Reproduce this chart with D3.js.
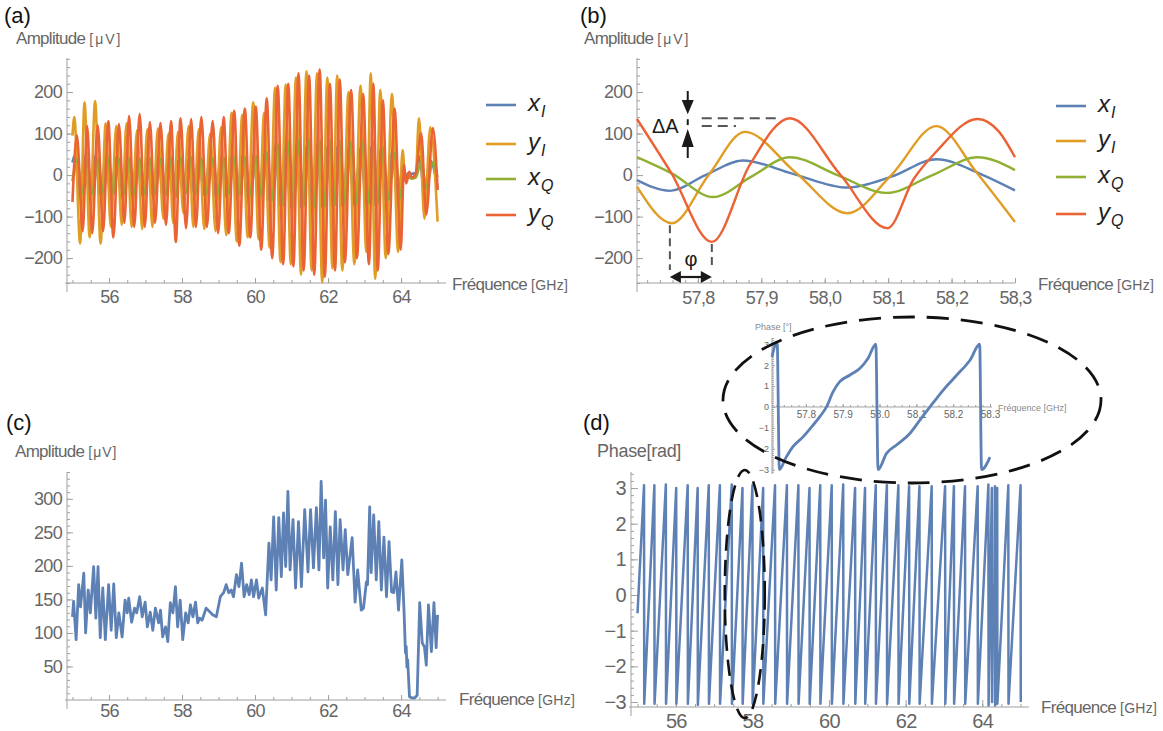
<!DOCTYPE html>
<html><head><meta charset="utf-8">
<script src="https://cdn.jsdelivr.net/npm/d3@7/dist/d3.min.js"></script>
<style>
html,body{margin:0;padding:0;background:#fff;}
svg{display:block;font-family:"Liberation Sans",Arial,Helvetica,sans-serif;}
</style></head>
<body><svg id="fig" width="1163" height="731"></svg>
<script>
// ================= DATA =================
const seriesLabels = [["x","I"],["y","I"],["x","Q"],["y","Q"]];
const seriesColors = ["#5E81B5","#E19C24","#8FB032","#EB6235"];

// ---- panel (a): extrema of the in-phase (I) and quadrature (Q) signals, 55-65 GHz
const aFreqI = [55.00,55.05,55.21,55.33,55.47,55.62,55.77,55.91,56.05,56.20,56.35,56.48,56.62,56.77,56.91,57.05,57.19,57.34,57.49,57.63,57.76,57.89,58.04,58.18,58.31,58.46,58.61,58.77,58.92,59.07,59.21,59.36,59.50,59.65,59.80,59.95,60.10,60.25,60.40,60.55,60.70,60.84,60.98,61.12,61.26,61.41,61.55,61.70,61.84,61.98,62.12,62.25,62.39,62.56,62.72,62.89,63.05,63.17,63.29,63.43,63.58,63.75,63.92,64.04,64.12,64.20,64.30,64.40,64.49,64.64,64.80,65.00];
const aYI = [95,140,-165,175,-150,178,-165,125,-125,118,-120,125,-125,108,-130,110,-125,112,-105,100,-116,104,-92,118,-125,110,-130,100,-135,115,-145,150,-160,145,-150,175,-155,150,-175,210,-210,218,-215,235,-240,250,-230,245,-258,235,-225,240,-230,200,-215,215,-185,245,-250,205,-200,195,-185,60,-15,-5,-8,-5,137,-105,115,-112];
const aXI = [30,45,-50,45,-52,45,-50,42,-50,43,-52,43,-50,42,-50,42,-48,40,-45,38,-40,33,-30,38,-40,42,-48,42,-50,43,-52,45,-55,45,-55,45,-55,50,-65,68,-75,68,-77,70,-77,70,-77,70,-77,68,-75,68,-75,65,-72,65,-72,65,-72,60,-65,55,-60,20,-5,5,3,5,45,-35,35,-30];
const aFreqQ = [55.00,55.12,55.28,55.40,55.54,55.69,55.84,55.98,56.12,56.27,56.42,56.55,56.69,56.84,56.98,57.12,57.26,57.41,57.56,57.70,57.83,57.96,58.11,58.25,58.38,58.53,58.68,58.84,58.99,59.14,59.28,59.43,59.57,59.72,59.87,60.02,60.17,60.32,60.47,60.62,60.77,60.91,61.05,61.19,61.33,61.48,61.62,61.77,61.91,62.05,62.19,62.32,62.46,62.63,62.79,62.96,63.12,63.24,63.36,63.50,63.65,63.82,63.99,64.08,64.14,64.22,64.30,64.40,64.55,64.69,64.87,65.00];
const aYQ = [-65,96,-135,118,-140,120,-135,130,-150,123,-115,142,-125,147,-125,128,-115,125,-120,130,-161,137,-128,135,-125,140,-125,130,-140,140,-140,155,-170,160,-150,165,-180,185,-200,215,-215,220,-220,245,-230,240,-240,255,-245,220,-230,230,-210,205,-200,195,-215,220,-230,180,-190,160,-180,25,-20,8,-6,4,100,-95,113,-36];
const aXQ = [-15,38,-45,38,-45,38,-45,40,-45,40,-45,40,-45,40,-45,40,-45,40,-48,42,-53,43,-43,43,-45,40,-45,40,-45,42,-45,42,-48,42,-48,45,-50,55,-60,75,-72,80,-75,85,-75,85,-75,85,-75,85,-72,82,-70,80,-68,80,-68,80,-68,65,-60,55,-55,10,-8,-6,-8,-6,32,-30,30,-5];

// ---- panel (b): zoom 57.70-58.30 GHz, [GHz, µV]
const bXI = [[57.704,-12],[57.756,-38],[57.812,0],[57.871,35],[57.95,3],[58.035,-30],[58.105,-4],[58.176,38],[58.245,3],[58.30,-37]];
const bYI = [[57.704,-28],[57.759,-116],[57.817,0],[57.874,104],[57.955,5],[58.036,-92],[58.105,0],[58.176,118],[58.24,5],[58.30,-113]];
const bXQ = [[57.704,43],[57.76,3],[57.824,-53],[57.885,-3],[57.945,43],[58.02,0],[58.098,-43],[58.17,0],[58.241,43],[58.30,12]];
const bYQ = [[57.704,135],[57.758,5],[57.822,-161],[57.882,25],[57.945,137],[58.025,0],[58.099,-128],[58.14,-10],[58.175,55],[58.241,135],[58.275,104],[58.30,43]];

// ---- panel (c): amplitude [GHz, µV]
const cAmp = [[55.00,124],[55.03,147],[55.10,90],[55.17,172],[55.22,139],[55.31,189],[55.36,100],[55.43,164],[55.49,130],[55.58,199],[55.64,122],[55.70,199],[55.76,93],[55.83,167],[55.90,90],[55.99,172],[56.06,104],[56.13,173],[56.20,93],[56.27,130],[56.36,94],[56.44,149],[56.50,130],[56.54,152],[56.62,116],[56.70,137],[56.76,130],[56.84,154],[56.91,124],[56.99,146],[57.05,109],[57.13,131],[57.20,104],[57.27,137],[57.36,115],[57.41,134],[57.47,94],[57.55,109],[57.61,87],[57.68,145],[57.75,130],[57.82,169],[57.88,109],[57.95,149],[58.02,90],[58.10,130],[58.17,115],[58.23,142],[58.30,124],[58.37,146],[58.43,115],[58.48,122],[58.55,119],[58.66,137],[58.84,127],[58.94,124],[59.05,154],[59.14,160],[59.21,172],[59.28,160],[59.35,164],[59.41,154],[59.49,187],[59.56,169],[59.63,204],[59.70,154],[59.77,172],[59.84,157],[59.90,179],[59.96,154],[60.04,179],[60.10,152],[60.20,167],[60.29,127],[60.38,234],[60.44,179],[60.51,273],[60.58,164],[60.65,272],[60.72,184],[60.78,279],[60.84,199],[60.90,311],[60.96,194],[61.04,269],[61.11,167],[61.19,266],[61.27,169],[61.36,284],[61.45,191],[61.52,284],[61.60,197],[61.68,287],[61.75,194],[61.81,326],[61.88,212],[61.93,298],[61.99,167],[62.06,258],[62.13,179],[62.20,281],[62.27,172],[62.33,269],[62.41,194],[62.47,254],[62.54,187],[62.66,242],[62.74,146],[62.81,194],[62.91,134],[62.97,137],[63.05,176],[63.08,172],[63.14,288],[63.18,190],[63.25,276],[63.32,179],[63.39,266],[63.46,164],[63.53,243],[63.60,154],[63.67,236],[63.74,161],[63.80,160],[63.86,191],[63.93,134],[64.02,209],[64.08,134],[64.12,70],[64.14,80],[64.16,49],[64.18,60],[64.23,5],[64.30,3],[64.37,3],[64.44,7],[64.51,145],[64.58,85],[64.64,79],[64.69,52],[64.75,142],[64.83,72],[64.90,145],[64.96,78],[65.00,127]];

// ---- panel (d): wrapped phase [GHz, rad]
const dPhase = [[55.00,-0.51],[55.17,3.08],[55.175,-3.05],[55.44,3.08],[55.445,-3.05],[55.74,3.1],[55.745,-3.05],[56.01,3.0],[56.015,-3.05],[56.31,3.08],[56.315,-3.05],[56.57,3.0],[56.575,-3.08],[56.86,3.08],[56.865,-3.05],[57.15,3.08],[57.155,-3.05],[57.46,3.1],[57.465,-3.05],[57.74,3.0],[57.745,-3.05],[58.00,3.08],[58.005,-3.05],[58.28,3.0],[58.285,-3.05],[58.59,3.08],[58.595,-3.05],[58.90,3.08],[58.905,-3.05],[59.20,3.08],[59.205,-3.05],[59.49,3.0],[59.495,-3.05],[59.77,3.08],[59.775,-3.05],[60.07,3.08],[60.075,-3.05],[60.37,3.1],[60.375,-3.05],[60.68,3.0],[60.685,-3.05],[60.94,3.0],[60.945,-3.05],[61.22,3.08],[61.225,-3.05],[61.51,3.08],[61.515,-3.05],[61.81,3.08],[61.815,-3.05],[62.09,3.05],[62.095,-3.05],[62.36,3.05],[62.365,-3.05],[62.68,3.05],[62.685,-3.05],[63.03,3.05],[63.035,-3.05],[63.26,3.05],[63.265,-3.05],[63.55,3.05],[63.555,-3.05],[63.88,3.05],[63.885,-3.05],[64.16,3.1],[64.165,-3.1],[64.25,3.0],[64.255,-3.0],[64.28,0.1],[64.29,-0.15],[64.30,0.25],[64.31,-0.1],[64.32,0.2],[64.33,3.05],[64.335,-3.1],[64.36,0.0],[64.37,0.3],[64.38,-0.05],[64.39,3.0],[64.395,-3.05],[64.68,3.08],[64.685,-3.05],[65.00,3.08],[65.005,-3.0]];

// ---- inset: phase 57.70-58.30 GHz
const insetPhase = [[57.708,2.4],[57.722,3.1],[57.728,-3.0],[57.745,-2.45],[57.765,-1.9],[57.793,-1.42],[57.82,-0.86],[57.838,-0.46],[57.856,0],[57.874,0.73],[57.892,1.21],[57.92,1.53],[57.947,1.85],[57.969,2.33],[57.99,3.0],[57.996,-3.0],[58.019,-2.22],[58.046,-1.82],[58.083,-1.26],[58.11,-0.62],[58.137,0],[58.173,0.81],[58.21,1.53],[58.246,2.25],[58.272,3.0],[58.277,-3.0],[58.30,-2.4]];

// ---- tick labels
const fullXTicks = [56,58,60,62,64];
const abYTicks = [-200,-100,0,100,200];
const bXTicks = [57.8,57.9,58.0,58.1,58.2,58.3];
const cYTicks = [50,100,150,200,250,300];
const dYTicks = [-3,-2,-1,0,1,2,3];
const insetXTicks = [57.8,57.9,58.0,58.1,58.2,58.3];
const insetYTicks = [-3,-2,-1,0,1,2,3];

// ================= DRAWING =================
const svg = d3.select("#fig");
const AX = "#a0a0a0", LBL = "#666", FONT = '"Liberation Sans", Arial, Helvetica, sans-serif';
const minusFmt = d => d < 0 ? "\u2212" + Math.abs(d) : String(d);

function styleAxis(g, fs, ls){
  g.select(".domain").remove();
  g.attr("font-family", FONT).attr("font-size", fs);
  g.selectAll("line").attr("stroke", AX).attr("stroke-width", 1);
  g.selectAll("text").attr("fill", LBL).style("letter-spacing", ls);
}

function axes(o){
  const fs = o.fs || 18, ls = o.ls === undefined ? "-0.7px" : o.ls;
  const gxm = svg.append("g").attr("transform", `translate(0,${o.xAt})`)
    .call(d3.axisBottom(o.x).tickValues(o.xMinor).tickSize(-(o.minor||3)).tickFormat(""));
  styleAxis(gxm, fs, ls);
  const gx = svg.append("g").attr("transform", `translate(0,${o.xAt})`)
    .call(d3.axisBottom(o.x).tickValues(o.xMajor).tickSize(-(o.major||5)).tickPadding(o.xPad).tickFormat(o.xFmt));
  styleAxis(gx, fs, ls);
  const gym = svg.append("g").attr("transform", `translate(${o.yAt},0)`)
    .call(d3.axisLeft(o.y).tickValues(o.yMinor).tickSize(-(o.minor||3)).tickFormat(""));
  styleAxis(gym, fs, ls);
  const gy = svg.append("g").attr("transform", `translate(${o.yAt},0)`)
    .call(d3.axisLeft(o.y).tickValues(o.yMajor).tickSize(-(o.major||6)).tickPadding(o.yPad||5).tickFormat(o.yFmt || minusFmt));
  styleAxis(gy, fs, ls);
  const [x0, x1] = o.x.range();
  const [y0, y1] = o.y.range();
  svg.append("line").attr("x1", o.yAt - (o.xLeftExt===undefined?2:o.xLeftExt)).attr("x2", x1).attr("y1", o.xAt).attr("y2", o.xAt).attr("stroke", AX).attr("stroke-width", 1);
  svg.append("line").attr("x1", o.yAt).attr("x2", o.yAt).attr("y1", y1).attr("y2", o.xAt + (o.yBotExt===undefined?9:o.yBotExt)).attr("stroke", AX).attr("stroke-width", 1);
}

function txt(x, y, s, opt={}){
  return svg.append("text").attr("x", x).attr("y", y).text(s)
    .attr("font-family", FONT).attr("font-size", opt.fs || 16)
    .attr("fill", opt.fill || LBL).attr("text-anchor", opt.anchor || "start")
    .style("letter-spacing", opt.ls || "0px");
}
function axisTitle(x, y, main, unit, unitSpacing){
  const t = svg.append("text").attr("x", x).attr("y", y).attr("font-family", FONT).attr("fill", LBL);
  t.append("tspan").attr("font-size", 17).style("letter-spacing","-0.7px").text(main);
  if (unit) t.append("tspan").attr("font-size", 14).attr("dx", 4).style("letter-spacing", unitSpacing).text(unit);
}
function legend(x0, ys){
  ys.forEach((yy, i) => {
    svg.append("line").attr("x1", x0).attr("x2", x0 + 30).attr("y1", yy).attr("y2", yy)
      .attr("stroke", seriesColors[i]).attr("stroke-width", 2.6);
    const t = svg.append("text").attr("x", x0 + 42).attr("y", yy + 6).attr("font-family", FONT)
      .attr("fill", "#222").attr("font-style", "italic");
    t.append("tspan").attr("font-size", 24).text(seriesLabels[i][0]);
    t.append("tspan").attr("font-size", 16).attr("dy", 6).attr("dx", 1).text(seriesLabels[i][1]);
  });
}
const halfStep = (a, b, s) => d3.range(0, Math.round((b - a) / s) + 1).map(k => +(a + k * s).toFixed(4));

// ---------- Panel (a) ----------
const xa = d3.scaleLinear().domain([54.85, 65.23]).range([67, 446]);
const ya = d3.scaleLinear().domain([-260, 282]).range([283, 58]);
axes({x: xa, y: ya, xAt: 283, yAt: 67, xMajor: fullXTicks, xMinor: halfStep(55, 65, 0.5),
      yMajor: abYTicks, yMinor: halfStep(-260, 280, 20), xPad: 7, xFmt: d3.format("d")});
const lineA = d3.line().x(d => xa(d[0])).y(d => ya(d[1])).curve(d3.curveMonotoneX);
const aSeries = [
  aFreqI.map((f, i) => [f, aXI[i]]),
  aFreqI.map((f, i) => [f, aYI[i]]),
  aFreqQ.map((f, i) => [f, aXQ[i]]),
  aFreqQ.map((f, i) => [f, aYQ[i]])
];
aSeries.forEach((s, i) => svg.append("path").attr("d", lineA(s)).attr("fill", "none")
  .attr("stroke", seriesColors[i]).attr("stroke-width", 2.6).attr("stroke-linejoin", "round"));
legend(486, [105, 144, 179, 215]);
txt(4, 23, "(a)", {fs: 22, fill: "#111"});
axisTitle(16, 44, "Amplitude", "[μV]", "2px");
axisTitle(452, 290, "Fréquence", "[GHz]", "0.3px");

// ---------- Panel (b) ----------
const xb = d3.scaleLinear().domain([57.704, 58.3]).range([637, 1015]);
const yb = d3.scaleLinear().domain([-260, 282]).range([283, 58]);
axes({x: xb, y: yb, xAt: 283, yAt: 637, xMajor: bXTicks, xMinor: halfStep(57.72, 58.3, 0.02),
      yMajor: abYTicks, yMinor: halfStep(-260, 280, 20), xPad: 8, xFmt: d => d3.format(".1f")(d).replace(".", ","), xLeftExt: 0});
const lineB = d3.line().x(d => xb(d[0])).y(d => yb(d[1])).curve(d3.curveMonotoneX);
[bXI, bYI, bXQ, bYQ].forEach((s, i) => svg.append("path").attr("d", lineB(s)).attr("fill", "none")
  .attr("stroke", seriesColors[i]).attr("stroke-width", 2.4));
legend(1056, [106, 141, 177, 214]);
txt(580, 23, "(b)", {fs: 22, fill: "#111"});
axisTitle(584, 44, "Amplitude", "[μV]", "2px");
axisTitle(1038, 290, "Fréquence", "[GHz]", "0.3px");

// annotations ΔA and φ
const ANN = "#555", ARR = "#1a1a1a";
const peakYQ = d3.max(bYQ, d => d[1]), peakYI = d3.max(bYI, d => d[1]);
const trYI = bYI[1], trYQ = bYQ[2];
const axX = xb(57.784);
svg.append("line").attr("x1", axX + 14).attr("x2", xb(57.93)).attr("y1", yb(peakYQ)).attr("y2", yb(peakYQ))
  .attr("stroke", ANN).attr("stroke-width", 2).attr("stroke-dasharray", "10,6");
svg.append("line").attr("x1", axX + 14).attr("x2", xb(57.86)).attr("y1", yb(peakYI)).attr("y2", yb(peakYI))
  .attr("stroke", ANN).attr("stroke-width", 2).attr("stroke-dasharray", "10,6");
svg.append("line").attr("x1", axX).attr("x2", axX).attr("y1", yb(peakYQ) + 1).attr("y2", yb(peakYI) - 1)
  .attr("stroke", ARR).attr("stroke-width", 2);
svg.append("line").attr("x1", axX).attr("x2", axX).attr("y1", 91).attr("y2", 104).attr("stroke", ARR).attr("stroke-width", 2);
svg.append("path").attr("d", `M${axX-6},100 L${axX+6},100 L${axX},${yb(peakYQ)-4} Z`).attr("fill", ARR);
svg.append("line").attr("x1", axX).attr("x2", axX).attr("y1", 144).attr("y2", 158).attr("stroke", ARR).attr("stroke-width", 2);
svg.append("path").attr("d", `M${axX-6},147 L${axX+6},147 L${axX},${yb(peakYI)+3} Z`).attr("fill", ARR);
txt(652, 133, "ΔA", {fs: 20, fill: "#1a1a1a"});
const phX1 = xb(trYI[0]) - 2, phX2 = xb(trYQ[0]);
svg.append("line").attr("x1", phX1).attr("x2", phX1).attr("y1", yb(trYI[1]) + 2).attr("y2", 270)
  .attr("stroke", ANN).attr("stroke-width", 2).attr("stroke-dasharray", "8,5");
svg.append("line").attr("x1", phX2).attr("x2", phX2).attr("y1", yb(trYQ[1]) + 2).attr("y2", 270)
  .attr("stroke", ANN).attr("stroke-width", 2).attr("stroke-dasharray", "8,5");
svg.append("line").attr("x1", phX1 + 8).attr("x2", phX2 - 8).attr("y1", 277).attr("y2", 277).attr("stroke", ARR).attr("stroke-width", 2.2);
svg.append("path").attr("d", `M${phX1},277 L${phX1+11},271 L${phX1+11},283 Z`).attr("fill", ARR);
svg.append("path").attr("d", `M${phX2},277 L${phX2-11},271 L${phX2-11},283 Z`).attr("fill", ARR);
txt((phX1 + phX2) / 2, 266, "φ", {fs: 20, fill: "#1a1a1a", anchor: "middle"});

// ---------- Panel (c) ----------
const xc = d3.scaleLinear().domain([54.85, 65.23]).range([67, 446]);
const yc = d3.scaleLinear().domain([0, 340]).range([700, 472]);
axes({x: xc, y: yc, xAt: 700, yAt: 67, xMajor: fullXTicks, xMinor: halfStep(55, 65, 0.5),
      yMajor: cYTicks, yMinor: halfStep(10, 340, 10), xPad: 4, xFmt: d3.format("d")});
svg.append("path").attr("d", d3.line().x(d => xc(d[0])).y(d => yc(d[1]))(cAmp)).attr("fill", "none")
  .attr("stroke", seriesColors[0]).attr("stroke-width", 2.8).attr("stroke-linejoin", "round");
txt(6, 430, "(c)", {fs: 22, fill: "#111"});
axisTitle(15, 457, "Amplitude", "[μV]", "1px");
axisTitle(459, 705, "Fréquence", "[GHz]", "0.3px");

// ---------- Panel (d) ----------
const xd = d3.scaleLinear().domain([54.83, 65.22]).range([631, 1029]);
const yd = d3.scaleLinear().domain([-3.14, 3.45]).range([707, 472]);
axes({x: xd, y: yd, xAt: 707, yAt: 631, xMajor: fullXTicks, xMinor: halfStep(55, 65, 0.5),
      yMajor: dYTicks, yMinor: halfStep(-3.0, 3.4, 0.2), xPad: 7, xFmt: d3.format("d"), fs: 20, major: 7});
svg.append("path").attr("d", d3.line().x(d => xd(d[0])).y(d => yd(d[1]))(dPhase)).attr("fill", "none")
  .attr("stroke", seriesColors[0]).attr("stroke-width", 2.5).attr("stroke-linejoin", "round");
txt(583, 430, "(d)", {fs: 22, fill: "#111"});
svg.append("text").attr("x", 597).attr("y", 457).attr("font-family", FONT).attr("fill", LBL)
  .attr("font-size", 18).style("letter-spacing", "-0.3px").text("Phase[rad]");
axisTitle(1041, 713, "Fréquence", "[GHz]", "0.3px");
svg.append("ellipse").attr("cx", xd(57.8)).attr("cy", 594).attr("rx", 20).attr("ry", 124)
  .attr("fill", "none").attr("stroke", "#111").attr("stroke-width", 2.6).attr("stroke-dasharray", "16,9");

// ---------- Inset ----------
const xi = d3.scaleLinear().domain([57.708, 58.3]).range([772, 990]);
const yi = d3.scaleLinear().domain([-3.16, 3.30]).range([473, 338]);
const giX = svg.append("g").attr("transform", `translate(0,${yi(0)})`)
  .call(d3.axisBottom(xi).tickValues(halfStep(57.72, 58.3, 0.02)).tickSize(-2).tickFormat(""));
styleAxis(giX, 9, "0px");
const giX2 = svg.append("g").attr("transform", `translate(0,${yi(0)})`)
  .call(d3.axisBottom(xi).tickValues(insetXTicks).tickSize(-3).tickPadding(4).tickFormat(d3.format(".1f")));
styleAxis(giX2, 10, "0px");
const giY = svg.append("g").attr("transform", `translate(772,0)`)
  .call(d3.axisLeft(yi).tickValues(halfStep(-3.1, 3.3, 0.1)).tickSize(-2).tickFormat(""));
styleAxis(giY, 9, "0px");
const giY2 = svg.append("g").attr("transform", `translate(772,0)`)
  .call(d3.axisLeft(yi).tickValues(insetYTicks).tickSize(-3).tickPadding(3).tickFormat(minusFmt));
styleAxis(giY2, 9, "0px");
svg.append("line").attr("x1", 772).attr("x2", 992).attr("y1", yi(0)).attr("y2", yi(0)).attr("stroke", AX);
svg.append("line").attr("x1", 772).attr("x2", 772).attr("y1", 338).attr("y2", 474).attr("stroke", AX);
svg.append("path").attr("d", d3.line().x(d => xi(d[0])).y(d => yi(d[1])).curve(d3.curveMonotoneX)(insetPhase)).attr("fill", "none")
  .attr("stroke", seriesColors[0]).attr("stroke-width", 2.8).attr("stroke-linejoin", "round");
txt(755, 330, "Phase [°]", {fs: 9, fill: "#888"});
txt(998, 411, "Fréquence [GHz]", {fs: 9, fill: "#888"});
svg.append("ellipse").attr("cx", 912).attr("cy", 400).attr("rx", 189).attr("ry", 83)
  .attr("fill", "none").attr("stroke", "#111").attr("stroke-width", 2.8).attr("stroke-dasharray", "22,12");
</script>
</body></html>
